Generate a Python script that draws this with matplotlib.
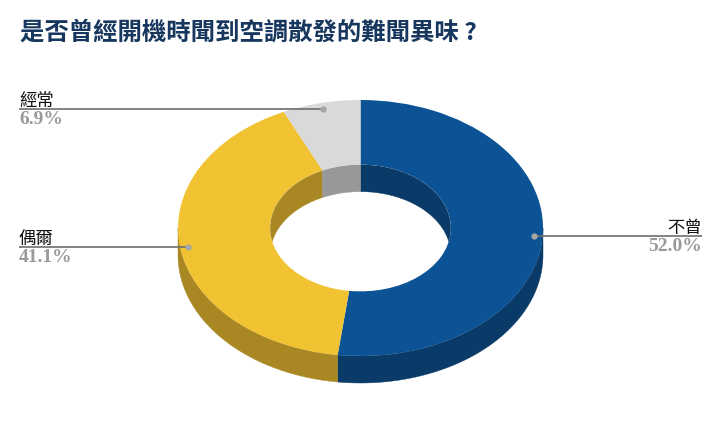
import numpy as np
import matplotlib
matplotlib.use("Agg")
import matplotlib.pyplot as plt
from matplotlib.patches import Ellipse, Polygon

title = "是否曾經開機時聞到空調散發的難聞異味 ?"
categories = ["不曾", "偶爾", "經常"]
values = [52.0, 41.1, 6.9]
top_colors = ["#0B5394", "#F1C232", "#D9D9D9"]
wall_colors = ["#0A3A68", "#A98823", "#989898"]

CJK = ["Noto Sans CJK TC", "DejaVu Sans"]
W, H = 720, 444
CX, CY = 360.5, 228         # pixel position of the ring centre
R, RY = 182.5, 128          # outer radii in pixels
RATIO = 0.495               # inner / outer radius
DEPTH_PX = 27
k = R / RY                  # tilt of the ring
depth = DEPTH_PX * k
r_in = R * RATIO

fig = plt.figure(figsize=(W / 100, H / 100), dpi=100, facecolor="white")
ax = fig.add_axes([0, 0, 1, 1])

# Top face: a real pie on a squashed axis
ax.pie(values, colors=top_colors, startangle=90, counterclock=False, radius=R,
       wedgeprops=dict(width=R - r_in, linewidth=0, zorder=3), frame=False)
ax.set_aspect("auto")
ax.set_xlim(-CX, W - CX)
ax.set_ylim(-(H - CY) * k, CY * k)
ax.axis("off")

fracs = np.array(values) / sum(values)
edges = 90 - 360 * np.concatenate([[0], np.cumsum(fracs)])   # clockwise from top


def band(radius, a0, a1, n=120):
    t = np.radians(np.linspace(a0, a1, n))
    x, y = radius * np.cos(t), radius * np.sin(t)
    return np.vstack([np.c_[x, y], np.c_[x, y - depth][::-1]])


# Walls: visible part of each slice; outer wall faces front, inner wall faces the back
for i, c in enumerate(wall_colors):
    hi, lo = edges[i], edges[i + 1]
    s, e = max(lo, -180), min(hi, 0)
    if s < e:                                          # front half of the outer rim
        ax.add_patch(Polygon(band(R, s, e), fc=c, ec=c, lw=0.3, zorder=2))
    hole = Ellipse((0, 0), 2 * r_in, 2 * r_in, transform=ax.transData)
    for a0, a1 in ((0, 180), (-360, -180)):            # back half of the hole
        s, e = max(lo, a0), min(hi, a1)
        if s < e:
            p = Polygon(band(r_in, s, e), fc=c, ec=c, lw=0.3, zorder=4)
            ax.add_patch(p)
            p.set_clip_path(hole)


def px(x, y):
    return x / W, 1 - y / H


fig.text(*px(20, 33), title, family=CJK, fontsize=17.6, fontweight="bold",
         color="#17375E", va="center", ha="left")

# Leader lines start at each slice's mid-angle
layout = {"不曾": (702, "right"), "偶爾": (19, "left"), "經常": (19, "left")}
GRAY = "#6E6E6E"
mids = (edges[:-1] + edges[1:]) / 2
for name, val, m in zip(categories, values, mids):
    t = np.radians(m)
    dx, dy = 0.955 * R * np.cos(t), 0.955 * R * np.sin(t)
    ax.plot(dx, dy, "o", ms=4.5, mfc="#A6A6A6", mec="none", zorder=6)
    end_px, ha = layout[name]
    ax.plot([dx, end_px - CX], [dy, dy], color=GRAY, lw=1.2, zorder=5,
            solid_capstyle="butt")
    y_px = CY - dy / k
    fig.text(*px(end_px, y_px + 1), name, family=CJK, fontsize=12.5, color="#111111",
             ha=ha, va="bottom")
    fig.text(*px(end_px, y_px + 2), f"{val:.1f}%", family="Liberation Serif",
             fontsize=14, fontweight="bold", color="#999999", ha=ha, va="top")

fig.savefig("out.png", dpi=100, facecolor="white")
